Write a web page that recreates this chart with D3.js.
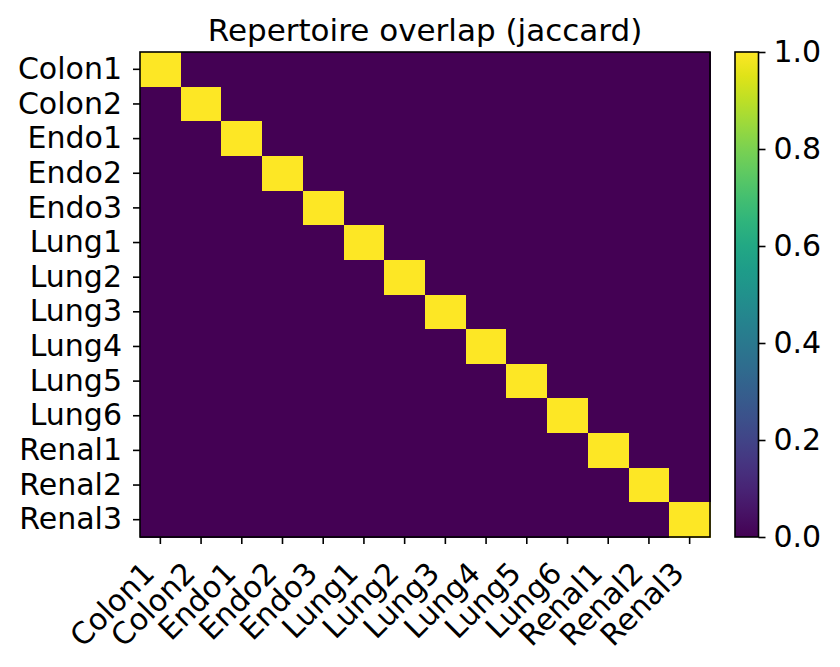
<!DOCTYPE html>
<html>
<head>
<meta charset="utf-8">
<script src="https://cdn.jsdelivr.net/npm/d3@7"></script>
<style>
  body { margin: 0; background: #fff; }
  text { font-family: "DejaVu Sans", sans-serif; fill: #000; }
</style>
</head>
<body>
<div id="chart"></div>
<script>
// samples on both axes
const samples = ["Colon1", "Colon2", "Endo1", "Endo2", "Endo3", "Lung1", "Lung2",
                 "Lung3", "Lung4", "Lung5", "Lung6", "Renal1", "Renal2", "Renal3"];

// jaccard overlap, one row per sample
const overlap = [
  [1, 0, 0, 0, 0, 0, 0, 0, 0, 0, 0, 0, 0, 0],
  [0, 1, 0, 0, 0, 0, 0, 0, 0, 0, 0, 0, 0, 0],
  [0, 0, 1, 0, 0, 0, 0, 0, 0, 0, 0, 0, 0, 0],
  [0, 0, 0, 1, 0, 0, 0, 0, 0, 0, 0, 0, 0, 0],
  [0, 0, 0, 0, 1, 0, 0, 0, 0, 0, 0, 0, 0, 0],
  [0, 0, 0, 0, 0, 1, 0, 0, 0, 0, 0, 0, 0, 0],
  [0, 0, 0, 0, 0, 0, 1, 0, 0, 0, 0, 0, 0, 0],
  [0, 0, 0, 0, 0, 0, 0, 1, 0, 0, 0, 0, 0, 0],
  [0, 0, 0, 0, 0, 0, 0, 0, 1, 0, 0, 0, 0, 0],
  [0, 0, 0, 0, 0, 0, 0, 0, 0, 1, 0, 0, 0, 0],
  [0, 0, 0, 0, 0, 0, 0, 0, 0, 0, 1, 0, 0, 0],
  [0, 0, 0, 0, 0, 0, 0, 0, 0, 0, 0, 1, 0, 0],
  [0, 0, 0, 0, 0, 0, 0, 0, 0, 0, 0, 0, 1, 0],
  [0, 0, 0, 0, 0, 0, 0, 0, 0, 0, 0, 0, 0, 1]
];

const colorTicks = [0.0, 0.2, 0.4, 0.6, 0.8, 1.0];
const title = "Repertoire overlap (jaccard)";

const W = 840, H = 667;
const plot = { left: 140, top: 52, right: 710, bottom: 537 };
const bar = { left: 735, right: 758.5 };
const fontSize = "30px";

const svg = d3.select("#chart").append("svg")
    .attr("width", W)
    .attr("height", H);

const x = d3.scaleBand().domain(samples).range([plot.left, plot.right]);
const y = d3.scaleBand().domain(samples).range([plot.top, plot.bottom]);
const color = d3.scaleSequential(d3.interpolateViridis).domain([0, 1]);

// cells
const cells = [];
overlap.forEach((row, i) => row.forEach((v, j) => cells.push({ r: samples[i], c: samples[j], v: v })));

svg.append("g")
    .selectAll("rect")
    .data(cells)
    .enter()
    .append("rect")
    .attr("x", d => x(d.c))
    .attr("y", d => y(d.r))
    .attr("width", x.bandwidth() + 0.5)
    .attr("height", y.bandwidth() + 0.5)
    .attr("fill", d => color(d.v))
    .attr("shape-rendering", "crispEdges");

// frame
svg.append("rect")
    .attr("x", plot.left)
    .attr("y", plot.top)
    .attr("width", plot.right - plot.left)
    .attr("height", plot.bottom - plot.top)
    .attr("fill", "none")
    .attr("stroke", "#000")
    .attr("stroke-width", 1.6);

// axes
const xAxis = svg.append("g")
    .attr("transform", `translate(0, ${plot.bottom})`)
    .call(d3.axisBottom(x).tickSize(7));

// rotated labels, baseline end just left of / below the tick
xAxis.selectAll("text")
    .style("font-size", fontSize)
    .style("text-anchor", "end")
    .attr("x", 0)
    .attr("y", 0)
    .attr("dy", null)
    .attr("transform", "translate(-4, 38) rotate(-45)");

const yAxis = svg.append("g")
    .attr("transform", `translate(${plot.left}, 0)`)
    .call(d3.axisLeft(y).tickSize(7).tickPadding(11));

yAxis.selectAll("text").style("font-size", fontSize);

[xAxis, yAxis].forEach(a => {
    a.select(".domain").remove();
    a.selectAll("line").attr("stroke", "#000").attr("stroke-width", 1.6);
    a.selectAll("text").attr("fill", "#000");
});

// title
svg.append("text")
    .attr("x", (plot.left + plot.right) / 2)
    .attr("y", 41)
    .attr("text-anchor", "middle")
    .style("font-size", "31px")
    .text(title);

// colorbar
const defs = svg.append("defs");
const grad = defs.append("linearGradient")
    .attr("id", "viridis")
    .attr("x1", "0%").attr("y1", "100%")
    .attr("x2", "0%").attr("y2", "0%");

d3.range(0, 1.0001, 0.05).forEach(t => {
    grad.append("stop")
        .attr("offset", (t * 100) + "%")
        .attr("stop-color", color(t));
});

const cy = d3.scaleLinear().domain([0, 1]).range([plot.bottom, plot.top]);

svg.append("rect")
    .attr("x", bar.left)
    .attr("y", plot.top)
    .attr("width", bar.right - bar.left)
    .attr("height", plot.bottom - plot.top)
    .attr("fill", "url(#viridis)")
    .attr("stroke", "#000")
    .attr("stroke-width", 1.6);

const cAxis = svg.append("g")
    .attr("transform", `translate(${bar.right}, 0)`)
    .call(d3.axisRight(cy).tickValues(colorTicks).tickFormat(d3.format(".1f")).tickSize(7).tickPadding(8));

cAxis.select(".domain").remove();
cAxis.selectAll("line").attr("stroke", "#000").attr("stroke-width", 1.6);
cAxis.selectAll("text").style("font-size", fontSize).attr("fill", "#000");
</script>
</body>
</html>
